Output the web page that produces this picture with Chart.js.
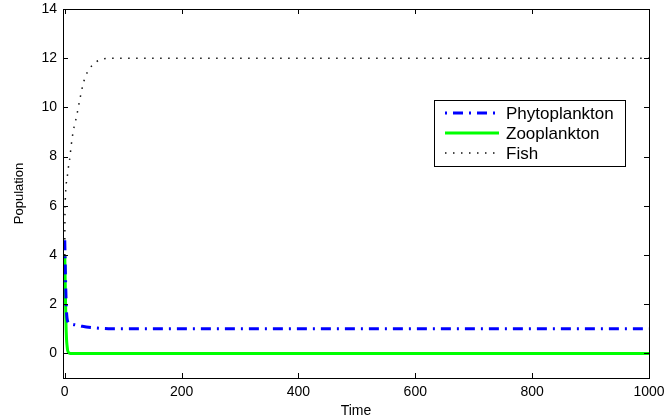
<!DOCTYPE html>
<html>
<head>
<meta charset="utf-8">
<script src="https://cdn.jsdelivr.net/npm/chart.js@4.4.1/dist/chart.umd.min.js"></script>
<style>
  html, body { margin: 0; padding: 0; background: #fff; }
  #wrap { width: 671px; height: 420px; }
</style>
</head>
<body>
<div id="wrap"><canvas id="popChart" width="671" height="420"></canvas></div>
<script>
// ── data ──
const phytoT = [0, 0.5, 1, 2, 3, 5, 8, 12, 20, 30, 45, 60, 80, 120, 1000];
const phytoY = [4.6, 4.0, 3.4, 2.4, 1.7, 1.3, 1.22, 1.19, 1.15, 1.1, 1.05, 1.02, 1.0, 1.0, 1.0];

const zooT = [0, 0.5, 1, 2, 3, 4, 5, 7, 10, 1000];
const zooY = [4.0, 3.3, 2.5, 1.3, 0.6, 0.3, 0.12, 0.02, 0, 0];

const fishT = [0, 0.3, 1, 2, 3, 5, 7, 9, 11, 13, 15, 18, 20, 22, 24, 26, 29, 32, 36, 41, 46, 55, 66, 80, 1000];
const fishY = [3.0, 5.5, 6.3, 6.7, 7.0, 7.3, 7.7, 8.0, 8.45, 8.8, 9.1, 9.4, 9.6, 9.85, 10.1, 10.35, 10.7, 11.0, 11.3, 11.5, 11.68, 11.87, 11.97, 12.0, 12.0];

const xTickVals = [0, 200, 400, 600, 800, 1000];
const yTickVals = [0, 2, 4, 6, 8, 10, 12, 14];

const toPoints = (ts, ys) => ts.map((t, i) => ({ x: t, y: ys[i] }));

const FONT = 'Liberation Sans, Arial, Helvetica, sans-serif';

// MATLAB-style box with inward ticks on all four sides
const boxPlugin = {
    id: 'boxPlugin',
    afterDatasetsDraw(chart) {
        const { ctx, chartArea: a, scales } = chart;
        ctx.save();
        ctx.strokeStyle = '#000';
        ctx.lineWidth = 1;
        ctx.beginPath();
        xTickVals.forEach(v => {
            const px = Math.round(scales.x.getPixelForValue(v)) + 0.5;
            ctx.moveTo(px, a.bottom); ctx.lineTo(px, a.bottom - 5);
            ctx.moveTo(px, a.top); ctx.lineTo(px, a.top + 5);
        });
        yTickVals.forEach(v => {
            const py = Math.round(scales.y.getPixelForValue(v)) + 0.5;
            ctx.moveTo(a.left, py); ctx.lineTo(a.left + 5, py);
            ctx.moveTo(a.right, py); ctx.lineTo(a.right - 5, py);
        });
        ctx.stroke();
        ctx.strokeRect(Math.round(a.left) + 0.5, Math.round(a.top) + 0.5,
            Math.round(a.right - a.left), Math.round(a.bottom - a.top));
        ctx.restore();
    }
};

// legend box inside the plot, upper right
const legendPlugin = {
    id: 'legendPlugin',
    afterDraw(chart) {
        const { ctx } = chart;
        const x0 = 434, y0 = 100, w = 191, h = 66;
        ctx.save();
        ctx.fillStyle = '#fff';
        ctx.fillRect(x0, y0, w, h);
        ctx.strokeStyle = '#000';
        ctx.lineWidth = 1;
        ctx.strokeRect(x0 + 0.5, y0 + 0.5, w, h);
        ctx.font = '17px ' + FONT;
        ctx.textBaseline = 'middle';
        chart.data.datasets.forEach((ds, i) => {
            const y = y0 + 13 + i * 20;
            ctx.strokeStyle = ds.borderColor;
            ctx.lineWidth = ds.borderWidth;
            ctx.setLineDash(ds.legendDash || ds.borderDash || []);
            ctx.beginPath();
            ctx.moveTo(x0 + 11, y);
            ctx.lineTo(x0 + 65, y);
            ctx.stroke();
            ctx.setLineDash([]);
            ctx.fillStyle = '#000';
            ctx.fillText(ds.label, x0 + 72, y + 1);
        });
        ctx.restore();
    }
};

new Chart(document.getElementById('popChart'), {
    type: 'line',
    data: {
        datasets: [
            {
                label: 'Phytoplankton',
                data: toPoints(phytoT, phytoY),
                borderColor: '#0000ff',
                borderWidth: 3,
                borderDash: [10, 6, 2, 6],
                legendDash: [2, 6, 10, 6],
                pointRadius: 0,
                cubicInterpolationMode: 'monotone'
            },
            {
                label: 'Zooplankton',
                data: toPoints(zooT, zooY),
                borderColor: '#00ff00',
                borderWidth: 3,
                pointRadius: 0,
                cubicInterpolationMode: 'monotone'
            },
            {
                label: 'Fish',
                data: toPoints(fishT, fishY),
                borderColor: '#111',
                borderWidth: 1.5,
                borderDash: [1.5, 6.5],
                pointRadius: 0,
                cubicInterpolationMode: 'monotone'
            }
        ]
    },
    options: {
        responsive: false,
        animation: false,
        layout: { padding: { left: 12, top: 9, right: 22, bottom: 0 } },
        plugins: { legend: { display: false }, tooltip: { enabled: false } },
        scales: {
            x: {
                type: 'linear',
                min: -3,
                max: 1000,
                afterBuildTicks: s => { s.ticks = xTickVals.map(v => ({ value: v })); },
                afterFit: s => { s.height = 42; s.paddingLeft = 0; s.paddingRight = 0; },
                grid: { display: false, drawTicks: false },
                border: { display: false },
                ticks: { color: '#000', font: { family: FONT, size: 14 }, padding: 6, maxRotation: 0, callback: v => String(v) },
                title: { display: true, text: 'Time', color: '#000', font: { family: FONT, size: 14 }, padding: { top: -2, bottom: 0 } }
            },
            y: {
                type: 'linear',
                min: -1,
                max: 14,
                afterBuildTicks: s => { s.ticks = yTickVals.map(v => ({ value: v })); },
                afterFit: s => { s.width = 51; s.paddingTop = 0; s.paddingBottom = 0; },
                grid: { display: false, drawTicks: false },
                border: { display: false },
                ticks: { color: '#000', font: { family: FONT, size: 14 }, padding: 6 },
                title: { display: true, text: 'Population', color: '#000', font: { family: FONT, size: 13 }, padding: { top: 0, bottom: 0 } }
            }
        }
    },
    plugins: [boxPlugin, legendPlugin]
});
</script>
</body>
</html>
